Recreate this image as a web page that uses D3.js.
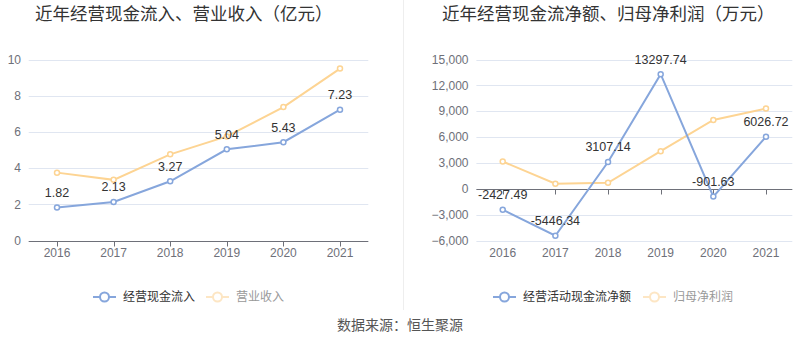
<!DOCTYPE html>
<html><head><meta charset="utf-8">
<script src="https://cdn.jsdelivr.net/npm/d3@7"></script>
<style>body{margin:0;background:#fff;}svg{display:block;font-family:"Liberation Sans","Noto Sans CJK SC",sans-serif;}</style>
</head><body><svg id="c" width="800" height="358"></svg>
<script>
const years = ["2016","2017","2018","2019","2020","2021"];
const cashInflow = [1.82, 2.13, 3.27, 5.04, 5.43, 7.23];
const revenue = [3.75, 3.35, 4.76, 5.75, 7.37, 9.50];
const netCashFlow = [-2427.49, -5446.34, 3107.14, 13297.74, -901.63, 6026.72];
const netProfit = [3166, 580, 695, 4363, 7990, 9305];
const leftTicks = [0, 2, 4, 6, 8, 10];
const rightTicks = [-6000, -3000, 0, 3000, 6000, 9000, 12000, 15000];
const titles = ["近年经营现金流入、营业收入（亿元）", "近年经营现金流净额、归母净利润（万元）"];
const leftNames = ["经营现金流入", "营业收入"];
const rightNames = ["经营活动现金流净额", "归母净利润"];
const source = "数据来源：恒生聚源";

const BLUE = "#86a6dc", ORANGE = "#fdd493";
const svg = d3.select("#c");
const CJK = '"Noto Sans CJK SC",sans-serif';

function panel(opt) {
  const g = svg.append("g");
  const x = d3.scaleBand().domain(years).range(opt.xr);
  const y = d3.scaleLinear().domain(opt.yd).range([240.5, 59.5]);
  // grid
  g.selectAll(".grid").data(opt.ticks).join("line")
    .attr("x1", opt.xr[0]).attr("x2", opt.xr[1])
    .attr("y1", d => Math.round(y(d)) + 0.5).attr("y2", d => Math.round(y(d)) + 0.5)
    .attr("stroke", "#e0e6f1").attr("stroke-width", 1);
  // y labels
  g.selectAll(".yl").data(opt.ticks).join("text")
    .attr("x", opt.yLabelX).attr("y", d => y(d)).attr("dy", "0.35em")
    .attr("text-anchor", "end").attr("font-size", 12).attr("fill", "#6e7079")
    .text(d => d3.format(",")(d));
  // axis line at zero
  const y0 = Math.round(y(0)) + 0.5;
  g.append("line").attr("x1", opt.xr[0]).attr("x2", opt.xr[1]).attr("y1", y0).attr("y2", y0)
    .attr("stroke", "#6e7079").attr("stroke-width", 1);
  g.selectAll(".tk").data(years).join("line")
    .attr("x1", d => Math.round(x(d) + x.bandwidth() / 2) + 0.5)
    .attr("x2", d => Math.round(x(d) + x.bandwidth() / 2) + 0.5)
    .attr("y1", y0).attr("y2", y0 + 5).attr("stroke", "#6e7079");
  g.selectAll(".xl").data(years).join("text")
    .attr("x", d => x(d) + x.bandwidth() / 2).attr("y", 253).attr("dy", "0.35em")
    .attr("text-anchor", "middle").attr("font-size", 12).attr("fill", "#6e7079").text(d => d);
  const line = d3.line().x((d, i) => x(years[i]) + x.bandwidth() / 2).y(d => y(d));
  const series = [[opt.s2, ORANGE], [opt.s1, BLUE]];
  series.forEach(([data, col]) => {
    g.append("path").attr("d", line(data)).attr("fill", "none").attr("stroke", col).attr("stroke-width", 2);
    g.selectAll(null).data(data).join("circle")
      .attr("cx", (d, i) => x(years[i]) + x.bandwidth() / 2).attr("cy", d => y(d))
      .attr("r", 2.5).attr("fill", "#fff").attr("stroke", col).attr("stroke-width", 1.5);
  });
  g.selectAll(".dl").data(opt.s1).join("text")
    .attr("x", (d, i) => x(years[i]) + x.bandwidth() / 2).attr("y", d => y(d) - 15).attr("dy", "0.35em")
    .attr("text-anchor", "middle").attr("font-size", 12.5).attr("fill", "#333").text(d => d);
  // title
  g.append("text").attr("x", opt.titleX).attr("y", 14).attr("dy", "0.35em")
    .attr("font-size", 17.5).attr("fill", "#333").style("font-family", CJK).text(opt.title);
  // legend
  opt.legend.forEach((it, i) => {
    const lg = g.append("g");
    lg.append("line").attr("x1", it.x).attr("x2", it.x + 23).attr("y1", 297).attr("y2", 297)
      .attr("stroke", it.c).attr("stroke-width", 2);
    lg.append("circle").attr("cx", it.x + 11.5).attr("cy", 297).attr("r", 4.5)
      .attr("fill", "#fff").attr("stroke", it.c).attr("stroke-width", 2);
    lg.append("text").attr("x", it.x + 30).attr("y", 297).attr("dy", "0.35em")
      .attr("font-size", 12).attr("fill", it.t).style("font-family", CJK).text(it.name);
  });
}

panel({xr: [28.7, 368.3], yd: [0, 10], ticks: leftTicks, yLabelX: 21, s1: cashInflow, s2: revenue,
  title: titles[0], titleX: 35,
  legend: [{x: 93, c: BLUE, t: "#333", name: leftNames[0]}, {x: 206, c: "#fde6c4", t: "#999", name: leftNames[1]}]});
panel({xr: [476.4, 792.3], yd: [-6000, 15000], ticks: rightTicks, yLabelX: 468.5, s1: netCashFlow, s2: netProfit,
  title: titles[1], titleX: 442,
  legend: [{x: 493, c: BLUE, t: "#333", name: rightNames[0]}, {x: 643, c: "#fde6c4", t: "#999", name: rightNames[1]}]});

svg.append("line").attr("x1", 403.5).attr("x2", 403.5).attr("y1", 0).attr("y2", 310)
  .attr("stroke", "#eeeeee").attr("stroke-width", 1);
svg.append("text").attr("x", 400).attr("y", 325).attr("dy", "0.35em").attr("text-anchor", "middle")
  .attr("font-size", 14).attr("fill", "#555").style("font-family", CJK).text(source);
</script></body></html>
